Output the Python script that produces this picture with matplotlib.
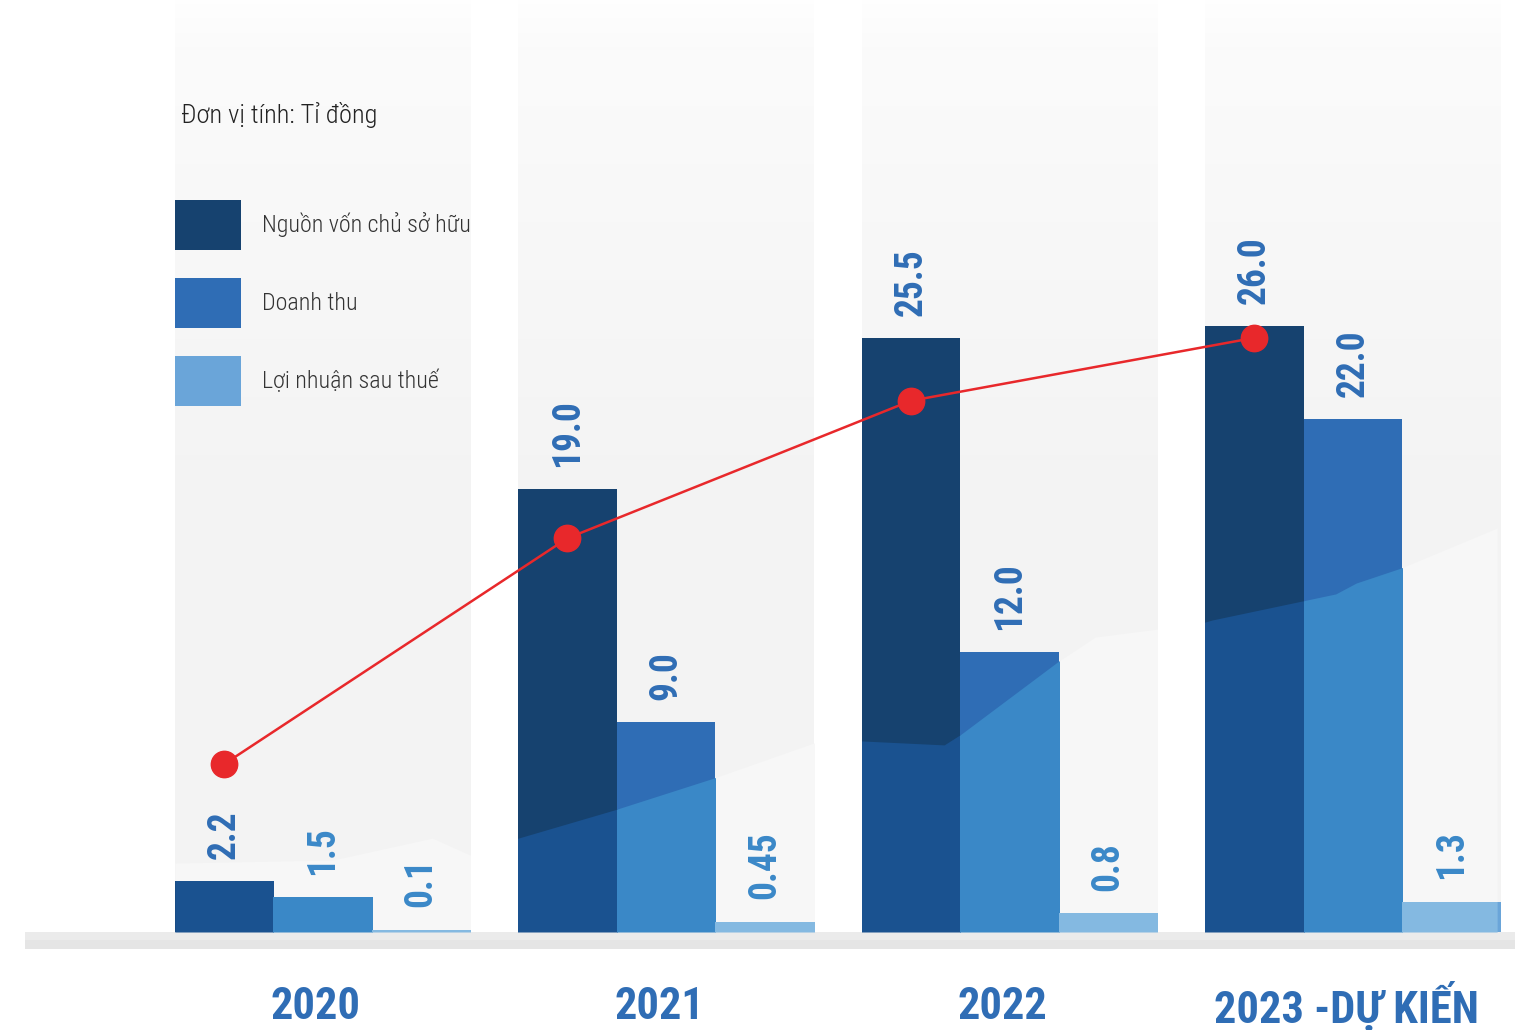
import numpy as np
import matplotlib
matplotlib.use('Agg')
import matplotlib.pyplot as plt
import matplotlib.colors as mcol
from matplotlib.patches import Rectangle

years = ['2020', '2021', '2022', '2023 -DỰ KIẾN']
von = [2.2, 19.0, 25.5, 26.0]
doanh_thu = [1.5, 9.0, 12.0, 22.0]
loi_nhuan = [0.1, 0.45, 0.8, 1.3]
von_txt = ['2.2', '19.0', '25.5', '26.0']
dt_txt = ['1.5', '9.0', '12.0', '22.0']
ln_txt = ['0.1', '0.45', '0.8', '1.3']
trend = [7.2, 16.9, 22.8, 25.5]
names = ['Nguồn vốn chủ sở hữu', 'Doanh thu', 'Lợi nhuận sau thuế']

# decorative light area behind / over the bars (x in groups, y in value units)
area_x = [-0.43, 0.03, 0.32, 0.43, 0.57, 0.85, 1.14, 1.43, 1.57, 1.81, 1.86,
          2.14, 2.25, 2.43, 2.56, 2.59, 2.95, 3.01, 3.14, 3.42]
area_y = [2.96, 3.09, 4.03, 3.30, 4.03, 5.24, 6.61, 8.11, 8.20, 8.03, 8.50,
          11.59, 12.66, 13.00, 13.26, 13.39, 14.51, 14.98, 15.62, 17.34]

top_col = ['#16426f', '#2f6db5', '#6aa5d9']
low_col = ['#1a5290', '#3a88c7', '#84b9e1']
lbl_dark = '#2f6db5'
lbl_light = '#3a88c8'
cond = ['Roboto Condensed', 'Roboto']

fig = plt.figure(figsize=(15.15, 10.30), dpi=100)
ax = fig.add_axes([0, 98 / 1030, 1, 932 / 1030])
ax.set_axis_off()

w = 0.287
ytop = 40.0
x = np.arange(len(years))

# column panels with a soft vertical gradient
cmap = mcol.LinearSegmentedColormap.from_list(
    'panel', [(0, '#f3f3f3'), (0.45, '#f3f3f3'), (0.7, '#f7f7f7'), (0.95, '#fbfbfb'), (1, '#fefefe')])
grad = np.linspace(1, 0, 256)[:, None]
for i in x:
    ax.imshow(grad, extent=(i - 1.5 * w, i + 1.5 * w, 0, ytop), aspect='auto', cmap=cmap,
              vmin=0, vmax=1, zorder=0)
    clip = Rectangle((i - 1.5 * w, 0), 3 * w, ytop, transform=ax.transData)
    f = ax.fill_between(area_x, 0, area_y, color='#f7f7f7', lw=0, zorder=0.5)
    f.set_clip_path(clip)

series = [von, doanh_thu, loi_nhuan]
texts = [von_txt, dt_txt, ln_txt]
for k in range(3):
    xs = x + (k - 1) * w
    bars = ax.bar(xs, series[k], width=w, color=top_col[k], label=names[k], zorder=2)
    for b in bars:
        f = ax.fill_between(area_x, 0, area_y, color=low_col[k], lw=0, zorder=2.5)
        f.set_clip_path(b)
    for xi, v, t in zip(xs, series[k], texts[k]):
        c = lbl_light if v + 1 < np.interp(xi, area_x, area_y) else lbl_dark
        ax.annotate(t, (xi, v), xytext=(0, 16), textcoords='offset points', rotation=90,
                    ha='center', va='bottom', fontsize=27, fontweight='bold', color=c,
                    family=cond)

ax.plot(x - w, trend, color='#e8282b', lw=1.8, marker='o', ms=19, zorder=5)

# base strip under the bars
s1 = ax.axhspan(-0.36, 0, xmin=25 / 1515, xmax=1, color='#ebebeb', lw=0, zorder=1)
s2 = ax.axhspan(-0.73, -0.36, xmin=25 / 1515, xmax=1, color='#e5e5e5', lw=0, zorder=1)
s1.set_clip_on(False)
s2.set_clip_on(False)

for i, yr in zip(x, years):
    ax.text(i - 0.02, -3.2, yr, ha='center', va='center', fontsize=32, fontweight='bold',
            color='#2f6db5', clip_on=False, family=cond)

ax.set_xlim(-0.939, 3.472)
ax.set_ylim(0, ytop)

fig.text(181 / 1515, 1 - 115 / 1030, 'Đơn vị tính: Tỉ đồng', ha='left', va='center', fontsize=19,
         color='#222222', family=cond, fontweight='light')
leg = ax.legend(loc='upper left', bbox_to_anchor=(175 / 1515, 1 - 200 / 1030), bbox_transform=fig.transFigure,
                frameon=False, borderpad=0, borderaxespad=0, handlelength=2.75, handleheight=2.82,
                labelspacing=1.17, handletextpad=0.88,
                prop=dict(size=17.3, family=cond, weight='light'))
for t in leg.get_texts():
    t.set_color('#333333')

fig.savefig('out.png', dpi=100)
